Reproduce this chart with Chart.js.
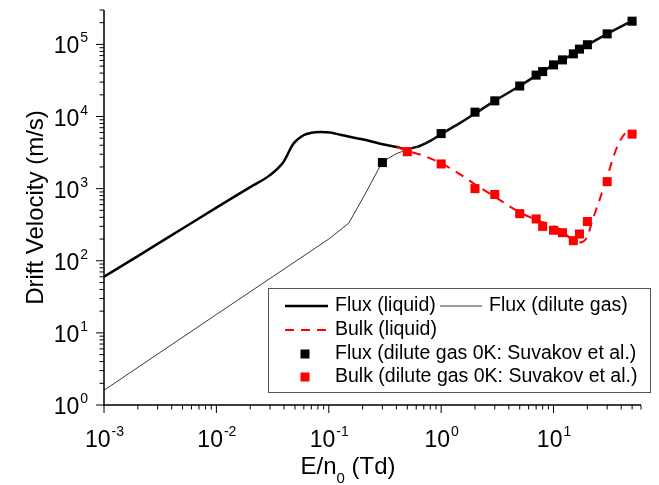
<!DOCTYPE html>
<html>
<head>
<meta charset="utf-8">
<script src="https://cdn.jsdelivr.net/npm/chart.js@4.4.1/dist/chart.umd.min.js"></script>
<style>
  html, body { margin: 0; padding: 0; background: #fff; }
  #chart { display: block; }
</style>
</head>
<body>
<canvas id="chart" width="659" height="485"></canvas>
<script>
/* ── data: E/n0 (Td) vs drift velocity (m/s) ── */
const fluxLiquidX = [0.001, 0.002, 0.005, 0.01, 0.02, 0.03, 0.0395, 0.0484, 0.0596, 0.07, 0.0836, 0.103, 0.126, 0.204, 0.287, 0.404, 0.48, 0.61, 0.8, 1, 1.5, 2, 3, 5, 7, 10, 15, 20, 30, 50];
const fluxLiquidY = [60, 116, 280, 545, 1050, 1540, 2340, 4200, 5500, 5950, 6100, 6000, 5600, 4790, 4200, 3780, 3550, 3790, 4600, 5700, 8300, 11000, 16500, 26500, 37000, 52000, 74000, 98000, 140000, 212000];

const fluxGasX = [0.001, 0.01, 0.1, 0.15, 0.204, 0.3, 0.4, 0.5, 0.61, 0.8, 1, 1.5, 2, 3, 5, 7, 10, 15, 20, 30, 50];
const fluxGasY = [1.6, 18, 200, 330, 767, 2350, 3060, 3480, 3790, 4600, 5700, 8300, 11000, 16500, 26500, 37000, 52000, 74000, 98000, 140000, 212000];

const bulkLiquidX = [0.404, 0.5, 0.7, 1, 1.5, 2, 3, 5, 7, 10, 12, 14, 16, 18, 20, 22, 25, 30, 35.5, 40, 45];
const bulkLiquidY = [3780, 3350, 2850, 2250, 1550, 1150, 770, 470, 370, 300, 260, 205, 178, 182, 215, 350, 620, 1450, 3300, 4900, 6300];

const suvakovFluxX = [0.3, 1, 2, 3, 5, 7, 8, 10, 12, 15, 17, 20, 30, 50];
const suvakovFluxY = [2300, 5800, 11500, 16500, 26500, 37500, 42000, 52000, 61000, 74000, 86000, 99000, 140000, 210000];

const suvakovBulkX = [0.5, 1, 2, 3, 5, 7, 8, 10, 12, 15, 17, 20, 30, 50];
const suvakovBulkY = [3250, 2200, 1000, 830, 450, 380, 300, 265, 245, 190, 235, 350, 1250, 5700];

const xTickExps = [-3, -2, -1, 0, 1];
const yTickExps = [0, 1, 2, 3, 4, 5];

const FONT = "'Liberation Sans', Arial, sans-serif";

const pts = (xs, ys) => xs.map((x, i) => ({ x, y: ys[i] }));

/* ── Origin-style axes, ticks, titles and legend ── */
const originAxes = {
  id: 'originAxes',
  afterDraw(chart) {
    const ctx = chart.ctx;
    const xs = chart.scales.x, ys = chart.scales.y;
    const { left, right, top, bottom } = chart.chartArea;
    ctx.save();
    ctx.strokeStyle = '#000';
    ctx.fillStyle = '#000';
    ctx.lineWidth = 1.5;

    ctx.beginPath();
    ctx.moveTo(left, top);
    ctx.lineTo(left, bottom);
    ctx.lineTo(right, bottom);
    ctx.stroke();

    // minor + major ticks, outward
    ctx.lineWidth = 1;
    const logTicks = (scale, cb) => {
      const e0 = Math.floor(Math.log10(scale.min));
      const e1 = Math.ceil(Math.log10(scale.max));
      for (let e = e0; e <= e1; e++) {
        for (let m = 1; m <= 9; m++) {
          const v = m * Math.pow(10, e);
          if (v < scale.min * 0.999 || v > scale.max * 1.001) continue;
          cb(scale.getPixelForValue(v), m === 1);
        }
      }
    };
    ctx.beginPath();
    logTicks(xs, (px, major) => {
      ctx.moveTo(px, bottom);
      ctx.lineTo(px, bottom + (major ? 8 : 4.5));
    });
    logTicks(ys, (py, major) => {
      ctx.moveTo(left, py);
      ctx.lineTo(left - (major ? 8 : 4.5), py);
    });
    ctx.stroke();

    // tick labels 10^n
    const big = '23px ' + FONT, sup = '14px ' + FONT;
    ctx.textBaseline = 'alphabetic';
    ctx.textAlign = 'left';
    xTickExps.forEach(e => {
      const px = xs.getPixelForValue(Math.pow(10, e));
      ctx.font = big; const w1 = ctx.measureText('10').width;
      ctx.font = sup; const w2 = ctx.measureText(String(e)).width;
      const x0 = px - (w1 + w2) / 2;
      ctx.font = big; ctx.fillText('10', x0, 447);
      ctx.font = sup; ctx.fillText(String(e), x0 + w1 + 1, 436);
    });
    yTickExps.forEach(e => {
      const py = ys.getPixelForValue(Math.pow(10, e));
      ctx.font = sup; const w2 = ctx.measureText(String(e)).width;
      ctx.font = big; const w1 = ctx.measureText('10').width;
      const xr = 88;
      ctx.fillText('10', xr - w2 - 1 - w1, py + 9);
      ctx.font = sup; ctx.fillText(String(e), xr - w2, py - 2);
    });

    // axis titles
    ctx.font = '24px ' + FONT;
    ctx.save();
    ctx.translate(43, (top + bottom) / 2);
    ctx.rotate(-Math.PI / 2);
    ctx.textAlign = 'center';
    ctx.fillText('Drift Velocity (m/s)', 0, 0);
    ctx.restore();

    const a = 'E/n', b = '0', c = ' (Td)';
    ctx.font = '24px ' + FONT; const wa = ctx.measureText(a).width, wc = ctx.measureText(c).width;
    ctx.font = '15px ' + FONT; const wb = ctx.measureText(b).width;
    let tx = 348 - (wa + wb + wc) / 2;
    ctx.font = '24px ' + FONT; ctx.fillText(a, tx, 474);
    ctx.font = '15px ' + FONT; ctx.fillText(b, tx + wa, 483);
    ctx.font = '24px ' + FONT; ctx.fillText(c, tx + wa + wb, 474);

    // legend box
    const lx = 268, ly = 288, lw = 382, lh = 104;
    ctx.fillStyle = '#fff';
    ctx.fillRect(lx, ly, lw, lh);
    ctx.strokeStyle = '#555';
    ctx.lineWidth = 1;
    ctx.strokeRect(lx + 0.5, ly + 0.5, lw, lh);

    const ds = chart.data.datasets;
    const lineSample = (d, x1, x2, y) => {
      ctx.save();
      ctx.strokeStyle = d.borderColor;
      ctx.lineWidth = d.borderWidth;
      ctx.setLineDash(d.borderDash || []);
      ctx.beginPath(); ctx.moveTo(x1, y); ctx.lineTo(x2, y); ctx.stroke();
      ctx.restore();
    };
    const sq = (d, cx, cy) => {
      ctx.fillStyle = d.pointBackgroundColor;
      ctx.fillRect(cx - 4.5, cy - 4.5, 9, 9);
    };
    ctx.font = '19.5px ' + FONT;
    ctx.fillStyle = '#000';
    ctx.textBaseline = 'middle';
    lineSample(ds[4], 285, 328, 306);
    ctx.fillStyle = '#000'; ctx.fillText('Flux (liquid)', 335, 306);
    lineSample(ds[3], 440, 482, 306);
    ctx.fillText('Flux (dilute gas)', 489, 306);
    lineSample(ds[2], 285, 328, 330);
    ctx.fillText('Bulk (liquid)', 335, 330);
    sq(ds[1], 305, 354);
    ctx.fillStyle = '#000'; ctx.fillText('Flux (dilute gas 0K: Suvakov et al.)', 335, 354);
    sq(ds[0], 305, 377);
    ctx.fillStyle = '#000'; ctx.fillText('Bulk (dilute gas 0K: Suvakov et al.)', 335, 377);
    ctx.restore();
  }
};

new Chart(document.getElementById('chart'), {
  type: 'line',
  data: {
    datasets: [
      { label: 'Bulk (dilute gas 0K: Suvakov et al.)', data: pts(suvakovBulkX, suvakovBulkY), showLine: false,
        pointStyle: 'rect', pointRadius: 6.4, pointBorderWidth: 0, pointBackgroundColor: '#ff0000', order: 0 },
      { label: 'Flux (dilute gas 0K: Suvakov et al.)', data: pts(suvakovFluxX, suvakovFluxY), showLine: false,
        pointStyle: 'rect', pointRadius: 6.4, pointBorderWidth: 0, pointBackgroundColor: '#000', order: 1 },
      { label: 'Bulk (liquid)', data: pts(bulkLiquidX, bulkLiquidY), borderColor: '#ff0000', borderWidth: 2,
        borderDash: [9, 7], pointRadius: 0, cubicInterpolationMode: 'monotone', order: 2 },
      { label: 'Flux (dilute gas)', data: pts(fluxGasX, fluxGasY), borderColor: '#222', borderWidth: 0.9,
        pointRadius: 0, tension: 0, order: 3 },
      { label: 'Flux (liquid)', data: pts(fluxLiquidX, fluxLiquidY), borderColor: '#000', borderWidth: 2.5,
        pointRadius: 0, cubicInterpolationMode: 'monotone', order: 4 }
    ]
  },
  options: {
    responsive: false,
    animation: false,
    devicePixelRatio: 1,
    layout: { padding: { left: 104, right: 18, top: 10, bottom: 80 } },
    plugins: { legend: { display: false }, tooltip: { enabled: false } },
    scales: {
      x: { type: 'logarithmic', min: 0.001, max: 60, display: false },
      y: { type: 'logarithmic', min: 1, max: 3e5, display: false }
    }
  },
  plugins: [originAxes]
});
</script>
</body>
</html>
